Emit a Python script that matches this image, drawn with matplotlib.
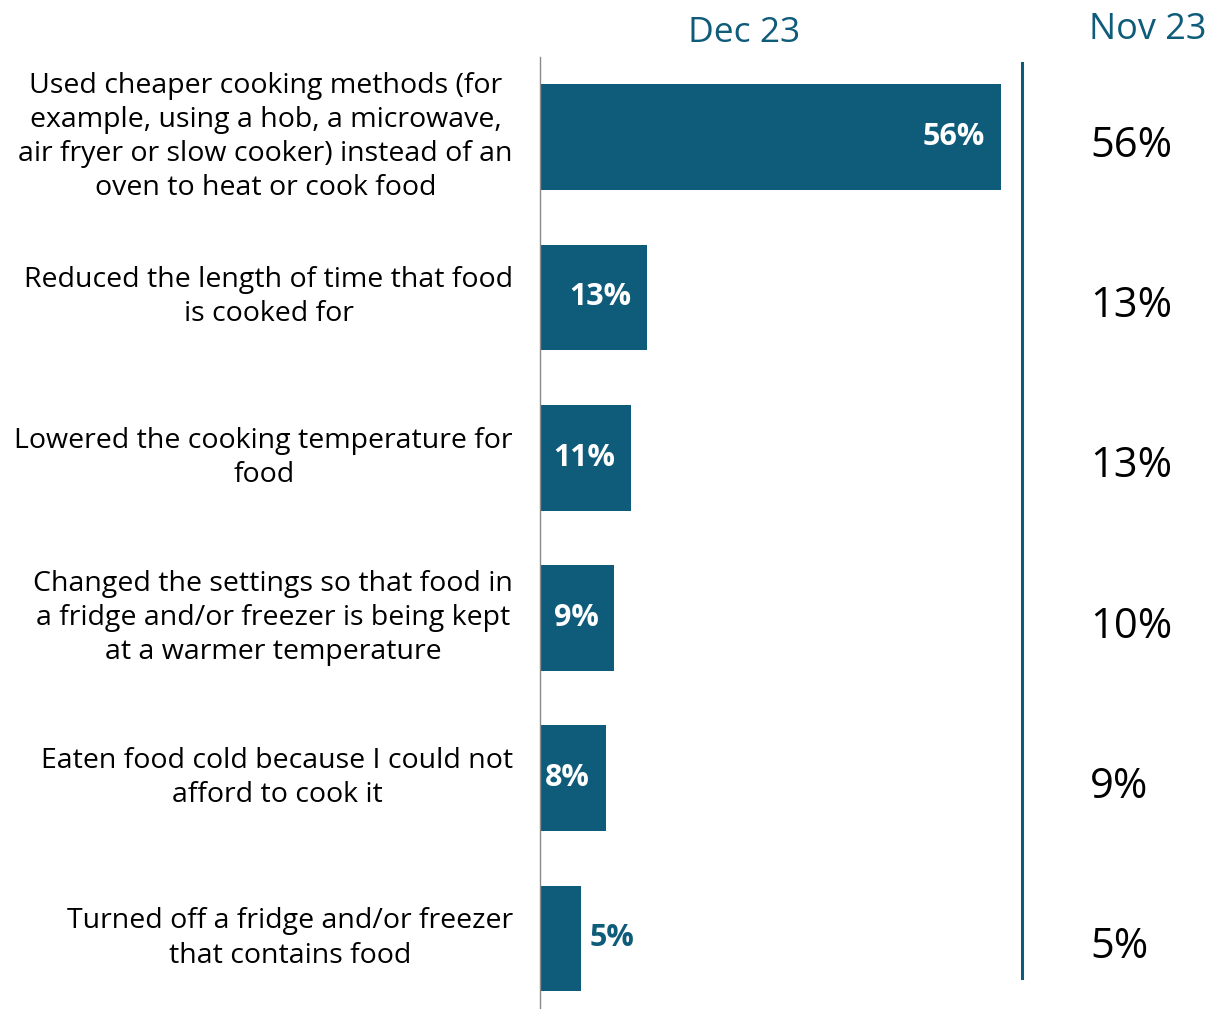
import matplotlib
matplotlib.use("Agg")
import matplotlib.pyplot as plt
from matplotlib.lines import Line2D

plt.rcParams['font.family'] = ['Open Sans', 'DejaVu Sans']

categories = [
    "Used cheaper cooking methods (for\nexample, using a hob, a microwave,\nair fryer or slow cooker) instead of an\noven to heat or cook food",
    "Reduced the length of time that food\nis cooked for",
    "Lowered the cooking temperature for\nfood",
    "Changed the settings so that food in\na fridge and/or freezer is being kept\nat a warmer temperature",
    "Eaten food cold because I could not\nafford to cook it",
    "Turned off a fridge and/or freezer\nthat contains food",
]
dec23 = [56, 13, 11, 9, 8, 5]
nov23 = [56, 13, 13, 10, 9, 5]
headers = ["Dec 23", "Nov 23"]

BLUE = "#0F5C7A"
W, H = 1209, 1009
fig = plt.figure(figsize=(W / 100, H / 100), dpi=100)

# bar panel: left edge at x=540 px, from y=57 px down to the bottom
left_px, right_px, top_px = 540, 1020, 57
ax = fig.add_axes([left_px / W, 0, (right_px - left_px) / W, (H - top_px) / H])
px_per_pct = 461 / 56
ax.set_xlim(0, (right_px - left_px) / px_per_pct)
ax.set_ylim(5.44, -0.5)

ypos = list(range(len(categories)))
ax.barh(ypos, dec23, height=0.66, color=BLUE)

for s in ["top", "right", "bottom"]:
    ax.spines[s].set_visible(False)
ax.spines["left"].set_color("#8a8a8a")
ax.spines["left"].set_linewidth(1.0)
ax.set_xticks([])
ax.set_yticks([])

for y, v in zip(ypos, dec23):
    if v >= 8:
        ax.text(v - 1.9, y, f"{v}%", ha="right", va="center", color="white",
                fontsize=22, fontweight="bold")
    else:
        ax.text(v + 1.0, y, f"{v}%", ha="left", va="center", color=BLUE,
                fontsize=22, fontweight="bold")

# category labels to the left of the bars
for y, lab in zip(ypos, categories):
    ax.text(-27 / px_per_pct, y, lab, ha="right", va="center", multialignment="center",
            fontsize=20.5, color="black", linespacing=1.29, clip_on=False)

# previous period column
for y, v in zip(ypos, nov23):
    ax.text((1090 - left_px) / px_per_pct, y + 0.055, f"{v}%", ha="left", va="center",
            fontsize=30, color="black", clip_on=False)

# column headers
fig.text(744 / W, 1 - 33 / H, headers[0], ha="center", va="center", fontsize=25.5, color=BLUE)
fig.text(1148 / W, 1 - 30 / H, headers[1], ha="center", va="center", fontsize=26, color=BLUE)

# divider between the two columns
fig.add_artist(Line2D([1022 / W, 1022 / W], [1 - 63 / H, 1 - 978 / H],
                      transform=fig.transFigure, color=BLUE, linewidth=2.2))

fig.savefig("out.png", dpi=100, facecolor="white")
